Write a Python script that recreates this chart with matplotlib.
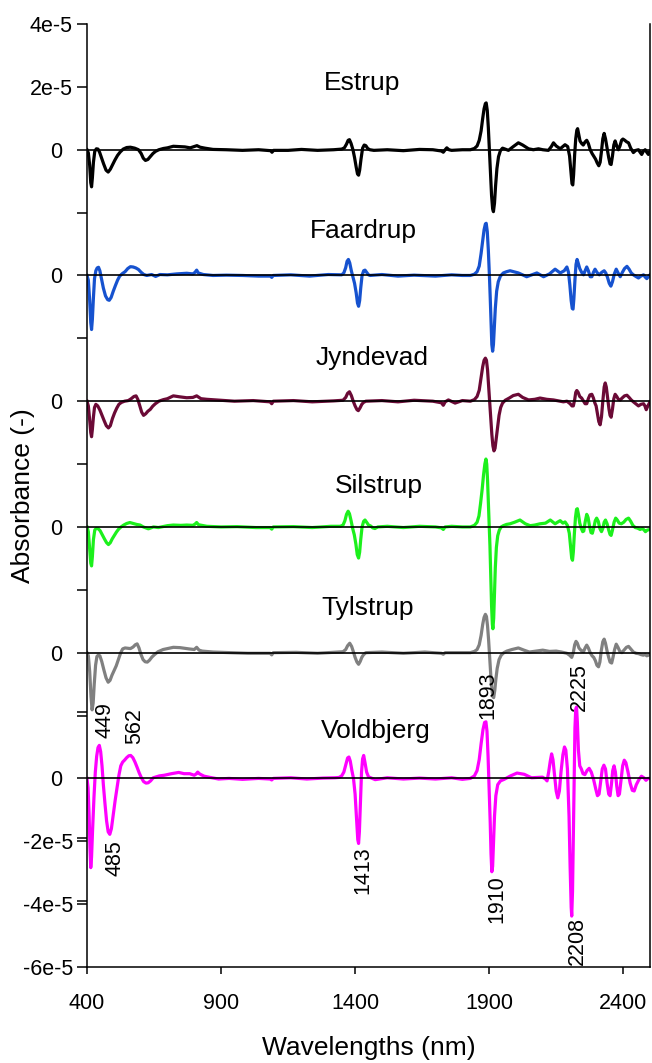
import matplotlib.pyplot as plt
import matplotlib.transforms as mtrans

plt.rcParams['font.family'] = ['Liberation Sans', 'DejaVu Sans']

# (wavelength nm, absorbance in units of 1e-5)
estrup = [(400, 0), (405, -0.1), (410, -0.5), (414, -1.05), (417, -1.18), (420, -0.9), (424, -0.4),
          (429, -0.05), (435, 0.03), (441, 0.02), (447, -0.08), (454, -0.25), (462, -0.45), (471, -0.65),
          (479, -0.71), (487, -0.62), (495, -0.48), (504, -0.33), (514, -0.18), (524, -0.07), (535, 0.02),
          (548, 0.07), (562, 0.08), (578, 0.05), (592, 0.0), (602, -0.12), (610, -0.27), (618, -0.34),
          (627, -0.31), (636, -0.22), (646, -0.12), (656, -0.05), (668, 0.0), (685, 0.04), (700, 0.06),
          (722, 0.11), (745, 0.1), (765, 0.09), (785, 0.06), (800, 0.1), (810, 0.13), (822, 0.08),
          (840, 0.05), (870, 0.01), (920, 0.0), (980, -0.02), (1040, 0.0), (1085, -0.03), (1090, -0.08),
          (1096, -0.02), (1150, -0.02), (1200, 0.01), (1260, -0.02), (1320, 0.0), (1350, 0.02),
          (1360, 0.06), (1368, 0.18), (1374, 0.3), (1379, 0.32), (1385, 0.2), (1392, 0.0), (1398, -0.25),
          (1404, -0.55), (1409, -0.77), (1413, -0.81), (1417, -0.65), (1422, -0.3), (1428, 0.05),
          (1434, 0.15), (1440, 0.13), (1447, 0.04), (1455, 0.0), (1470, -0.02), (1520, 0.0),
          (1580, -0.03), (1640, 0.01), (1690, 0.0), (1722, -0.04), (1729, -0.08), (1736, 0.0),
          (1742, 0.06), (1750, 0.0), (1760, -0.02), (1800, 0.0), (1830, 0.0), (1845, 0.04), (1855, 0.12),
          (1863, 0.3), (1870, 0.6), (1876, 1.0), (1881, 1.3), (1886, 1.47), (1889, 1.49), (1893, 1.25),
          (1897, 0.7), (1901, 0.0), (1905, -0.75), (1909, -1.45), (1913, -1.88), (1916, -1.97),
          (1920, -1.7), (1924, -1.15), (1929, -0.6), (1935, -0.22), (1942, -0.03), (1950, 0.05),
          (1960, 0.02), (1972, -0.02), (1990, 0.1), (2009, 0.22), (2025, 0.15), (2047, 0.03), (2065, 0.0),
          (2084, 0.03), (2100, 0.0), (2121, -0.02), (2132, 0.1), (2140, 0.22), (2150, 0.12), (2165, 0.03),
          (2175, 0.1), (2183, 0.16), (2193, 0.1), (2200, -0.2), (2205, -0.7), (2209, -1.08),
          (2212, -1.12), (2215, -0.8), (2219, -0.15), (2223, 0.35), (2227, 0.62), (2230, 0.67),
          (2234, 0.5), (2239, 0.28), (2245, 0.2), (2251, 0.15), (2258, 0.25), (2264, 0.3), (2270, 0.2),
          (2277, 0.0), (2284, -0.12), (2291, -0.22), (2297, -0.3), (2303, -0.42), (2309, -0.51),
          (2314, -0.4), (2319, -0.05), (2324, 0.35), (2329, 0.52), (2334, 0.35), (2340, 0.05),
          (2346, -0.25), (2351, -0.45), (2355, -0.47), (2360, -0.2), (2365, 0.15), (2370, 0.28),
          (2376, 0.12), (2382, 0.0), (2388, 0.12), (2394, 0.3), (2399, 0.34), (2406, 0.3), (2413, 0.25),
          (2420, 0.22), (2428, 0.05), (2438, -0.09), (2447, -0.02), (2457, 0.0), (2463, -0.08),
          (2469, -0.15), (2475, -0.05), (2482, 0.0), (2488, -0.08), (2494, -0.15), (2500, -0.05)]

faardrup = [(400, 0), (405, -0.15), (410, -0.8), (414, -1.5), (417, -1.72), (420, -1.4), (424, -0.7),
            (428, -0.1), (433, 0.15), (438, 0.24), (443, 0.26), (448, 0.15), (454, -0.1), (461, -0.4),
            (469, -0.65), (477, -0.77), (483, -0.79), (490, -0.7), (498, -0.5), (506, -0.32), (514, -0.15),
            (522, -0.02), (532, 0.06), (542, 0.12), (552, 0.22), (562, 0.28), (572, 0.27), (582, 0.24),
            (592, 0.19), (602, 0.1), (612, 0.03), (623, 0.0), (641, 0.03), (656, -0.03), (672, 0.03),
            (700, 0.02), (735, 0.05), (772, 0.07), (795, 0.05), (803, 0.1), (809, 0.17), (815, 0.08),
            (834, 0.03), (870, 0.0), (920, 0.01), (980, 0.0), (1040, -0.02), (1084, -0.02), (1089, -0.06),
            (1095, 0.0), (1160, 0.02), (1230, -0.02), (1300, 0.03), (1350, 0.02), (1358, 0.08),
            (1365, 0.25), (1370, 0.45), (1375, 0.51), (1380, 0.4), (1386, 0.15), (1392, -0.05),
            (1398, -0.25), (1404, -0.55), (1409, -0.88), (1413, -0.98), (1417, -0.8), (1421, -0.4),
            (1426, 0.0), (1432, 0.15), (1437, 0.17), (1443, 0.1), (1450, 0.02), (1456, 0.0), (1500, 0.03),
            (1560, -0.02), (1620, 0.01), (1700, -0.02), (1760, 0.02), (1800, 0.0), (1830, 0.0),
            (1845, 0.04), (1855, 0.12), (1863, 0.3), (1870, 0.7), (1876, 1.12), (1881, 1.45),
            (1886, 1.64), (1889, 1.66), (1893, 1.4), (1897, 0.8), (1901, 0.0), (1904, -0.7), (1907, -1.5),
            (1910, -2.2), (1913, -2.41), (1916, -2.2), (1919, -1.7), (1923, -1.05), (1928, -0.5),
            (1934, -0.2), (1942, -0.02), (1953, 0.08), (1965, 0.12), (1978, 0.15), (1992, 0.12),
            (2009, 0.08), (2040, -0.04), (2078, 0.08), (2103, -0.04), (2125, 0.05), (2146, 0.2),
            (2165, 0.08), (2180, 0.15), (2190, 0.27), (2196, 0.1), (2201, -0.3), (2206, -0.8),
            (2210, -1.05), (2213, -1.07), (2216, -0.75), (2220, -0.15), (2224, 0.35), (2228, 0.51),
            (2232, 0.4), (2238, 0.22), (2245, 0.1), (2252, 0.02), (2258, 0.15), (2264, 0.27), (2270, 0.15),
            (2277, -0.04), (2283, -0.04), (2289, 0.1), (2295, 0.2), (2302, 0.1), (2311, 0.02), (2320, 0.1),
            (2329, 0.15), (2335, 0.08), (2341, -0.05), (2348, -0.25), (2354, -0.34), (2360, -0.2),
            (2367, 0.05), (2374, 0.2), (2381, 0.08), (2389, -0.04), (2397, 0.1), (2405, 0.22),
            (2414, 0.29), (2422, 0.2), (2430, 0.08), (2438, 0.02), (2447, -0.03), (2457, -0.08),
            (2466, -0.02), (2476, 0.02), (2482, -0.05), (2488, -0.1), (2494, -0.04), (2500, 0.02)]

jyndevad = [(400, 0), (405, -0.15), (410, -0.6), (414, -1.0), (417, -1.13), (420, -0.9), (424, -0.5),
            (428, -0.2), (433, -0.1), (440, -0.15), (448, -0.28), (456, -0.45), (464, -0.62), (472, -0.78),
            (480, -0.85), (487, -0.78), (495, -0.55), (503, -0.37), (511, -0.22), (519, -0.1), (528, -0.04),
            (540, 0.0), (554, 0.02), (565, 0.08), (575, 0.15), (583, 0.17), (590, 0.05), (597, -0.15),
            (604, -0.35), (611, -0.45), (619, -0.4), (627, -0.32), (636, -0.26), (645, -0.16), (655, -0.08),
            (668, 0.0), (685, 0.05), (700, 0.08), (722, 0.17), (745, 0.14), (772, 0.11), (795, 0.12),
            (809, 0.17), (825, 0.08), (847, 0.06), (896, 0.03), (950, 0.0), (1020, 0.02), (1083, -0.02),
            (1089, -0.08), (1095, 0.0), (1170, 0.02), (1240, -0.02), (1320, 0.01), (1355, 0.03),
            (1365, 0.12), (1372, 0.25), (1379, 0.3), (1386, 0.18), (1393, 0.0), (1400, -0.15),
            (1407, -0.27), (1412, -0.3), (1418, -0.22), (1425, -0.1), (1431, -0.04), (1440, 0.0),
            (1500, 0.02), (1560, -0.02), (1620, 0.03), (1690, 0.0), (1722, -0.05), (1729, -0.13),
            (1736, -0.02), (1748, 0.04), (1773, -0.06), (1800, 0.02), (1830, 0.0), (1845, 0.05),
            (1855, 0.15), (1863, 0.35), (1870, 0.75), (1876, 1.1), (1881, 1.3), (1886, 1.37), (1890, 1.3),
            (1894, 1.0), (1898, 0.5), (1902, -0.05), (1906, -0.55), (1910, -1.05), (1914, -1.42),
            (1918, -1.58), (1922, -1.5), (1926, -1.22), (1931, -0.85), (1937, -0.45), (1943, -0.2),
            (1950, -0.06), (1960, 0.03), (1975, 0.1), (1990, 0.18), (2009, 0.22), (2025, 0.12),
            (2047, 0.04), (2070, 0.06), (2090, 0.1), (2115, 0.06), (2140, 0.04), (2177, -0.02),
            (2190, 0.0), (2202, -0.08), (2209, -0.15), (2214, -0.15), (2219, 0.05), (2223, 0.28),
            (2227, 0.34), (2232, 0.28), (2238, 0.15), (2245, 0.1), (2252, 0.0), (2258, -0.08),
            (2264, -0.08), (2270, 0.08), (2276, 0.2), (2283, 0.22), (2289, 0.1), (2294, -0.05),
            (2299, -0.15), (2304, -0.4), (2309, -0.65), (2314, -0.75), (2319, -0.5), (2324, 0.0),
            (2329, 0.45), (2333, 0.58), (2337, 0.45), (2342, 0.1), (2347, -0.25), (2351, -0.45),
            (2355, -0.51), (2360, -0.25), (2365, 0.08), (2370, 0.22), (2376, 0.15), (2382, 0.06),
            (2389, 0.04), (2396, 0.1), (2405, 0.17), (2414, 0.19), (2422, 0.12), (2430, 0.04),
            (2438, -0.02), (2447, -0.08), (2457, -0.15), (2466, -0.1), (2476, -0.08), (2481, -0.15),
            (2486, -0.27), (2492, -0.15), (2500, -0.02)]

silstrup = [(400, 0), (405, -0.15), (410, -0.7), (414, -1.15), (417, -1.24), (420, -0.95), (424, -0.4),
            (429, -0.1), (434, -0.05), (441, -0.05), (449, -0.12), (457, -0.25), (465, -0.38), (473, -0.5),
            (480, -0.56), (487, -0.5), (494, -0.38), (502, -0.27), (510, -0.16), (518, -0.07), (527, 0.0),
            (537, 0.06), (548, 0.11), (560, 0.14), (572, 0.11), (585, 0.08), (598, 0.06), (610, 0.0),
            (620, -0.03), (629, -0.06), (638, -0.03), (648, 0.0), (666, -0.02), (700, 0.04), (722, 0.06),
            (750, 0.05), (772, 0.06), (795, 0.05), (803, 0.09), (809, 0.14), (816, 0.07), (847, 0.02),
            (900, 0.0), (960, 0.01), (1030, -0.02), (1083, -0.02), (1089, -0.07), (1095, 0.0),
            (1170, 0.01), (1240, -0.02), (1310, 0.02), (1345, 0.02), (1355, 0.06), (1362, 0.2),
            (1368, 0.4), (1374, 0.5), (1379, 0.42), (1385, 0.2), (1391, -0.05), (1397, -0.25),
            (1403, -0.55), (1408, -0.88), (1413, -0.99), (1417, -0.8), (1421, -0.4), (1426, 0.0),
            (1432, 0.18), (1437, 0.22), (1443, 0.15), (1450, 0.06), (1458, 0.03), (1466, -0.03),
            (1474, -0.05), (1485, 0.0), (1520, 0.02), (1580, -0.02), (1640, 0.02), (1700, 0.0),
            (1722, -0.03), (1729, -0.08), (1736, 0.0), (1760, 0.02), (1800, 0.0), (1830, 0.0),
            (1845, 0.05), (1855, 0.15), (1862, 0.35), (1868, 0.75), (1874, 1.2), (1879, 1.65), (1884, 2.0),
            (1888, 2.16), (1891, 2.0), (1894, 1.5), (1897, 0.8), (1900, 0.1), (1903, -0.6), (1906, -1.5),
            (1909, -2.5), (1912, -3.1), (1914, -3.24), (1917, -2.9), (1920, -2.1), (1923, -1.3),
            (1927, -0.65), (1932, -0.28), (1938, -0.1), (1945, 0.0), (1953, 0.04), (1965, 0.08),
            (1978, 0.1), (1995, 0.15), (2015, 0.22), (2035, 0.1), (2053, 0.04), (2070, 0.06), (2090, 0.1),
            (2110, 0.12), (2128, 0.22), (2146, 0.1), (2155, 0.15), (2165, 0.2), (2175, 0.12), (2183, 0.16),
            (2192, 0.05), (2199, -0.2), (2204, -0.65), (2208, -1.0), (2211, -1.06), (2214, -0.8),
            (2218, -0.2), (2222, 0.3), (2226, 0.56), (2229, 0.58), (2233, 0.4), (2238, 0.12), (2244, -0.05),
            (2249, -0.15), (2253, -0.13), (2258, 0.15), (2264, 0.4), (2269, 0.3), (2275, 0.0),
            (2280, -0.18), (2285, -0.2), (2291, 0.0), (2296, 0.2), (2301, 0.28), (2307, 0.18),
            (2313, -0.05), (2319, -0.15), (2324, -0.05), (2329, 0.15), (2334, 0.22), (2340, 0.1),
            (2346, -0.1), (2351, -0.24), (2355, -0.27), (2360, -0.1), (2366, 0.15), (2372, 0.28),
            (2378, 0.22), (2385, 0.12), (2393, 0.1), (2402, 0.15), (2411, 0.24), (2420, 0.28),
            (2428, 0.18), (2436, 0.05), (2445, -0.02), (2454, -0.04), (2463, -0.08), (2472, -0.05),
            (2478, -0.1), (2483, -0.15), (2490, -0.1), (2500, -0.08)]

tylstrup = [(400, 0), (405, -0.1), (410, -0.6), (415, -1.4), (419, -1.82), (423, -1.6), (427, -1.0),
            (432, -0.4), (437, -0.12), (442, -0.08), (448, -0.1), (455, -0.28), (463, -0.55), (471, -0.8),
            (479, -0.94), (486, -0.88), (493, -0.72), (501, -0.57), (509, -0.42), (517, -0.22),
            (525, -0.02), (533, 0.12), (542, 0.15), (552, 0.14), (562, 0.13), (572, 0.18), (580, 0.25),
            (587, 0.28), (594, 0.15), (601, -0.05), (609, -0.22), (617, -0.29), (625, -0.3), (633, -0.24),
            (642, -0.14), (652, -0.06), (665, 0.03), (684, 0.1), (722, 0.17), (747, 0.16), (780, 0.12),
            (800, 0.1), (809, 0.17), (818, 0.08), (830, 0.05), (870, 0.02), (930, 0.0), (1000, -0.02),
            (1083, -0.02), (1089, -0.07), (1095, 0.0), (1180, 0.01), (1260, -0.02), (1340, 0.02),
            (1355, 0.03), (1365, 0.1), (1372, 0.22), (1380, 0.3), (1387, 0.2), (1394, 0.02), (1400, -0.15),
            (1407, -0.3), (1413, -0.37), (1419, -0.28), (1425, -0.15), (1431, -0.07), (1440, 0.0),
            (1500, 0.02), (1580, -0.02), (1660, 0.02), (1722, -0.02), (1729, -0.05), (1736, 0.0),
            (1780, 0.0), (1830, 0.0), (1845, 0.04), (1855, 0.1), (1863, 0.25), (1870, 0.55), (1876, 0.9),
            (1881, 1.12), (1886, 1.22), (1890, 1.15), (1894, 0.85), (1898, 0.4), (1902, -0.15),
            (1906, -0.7), (1910, -1.15), (1914, -1.4), (1917, -1.43), (1921, -1.2), (1925, -0.85),
            (1930, -0.5), (1937, -0.22), (1945, -0.08), (1955, 0.0), (1966, 0.05), (1985, 0.1),
            (2009, 0.15), (2030, 0.08), (2050, 0.02), (2075, 0.05), (2100, 0.08), (2125, 0.04),
            (2150, 0.05), (2170, 0.02), (2190, -0.02), (2200, -0.08), (2208, -0.15), (2214, 0.0),
            (2219, 0.25), (2224, 0.36), (2229, 0.3), (2235, 0.15), (2240, 0.1), (2246, 0.05), (2252, 0.03),
            (2258, 0.15), (2264, 0.24), (2270, 0.15), (2277, 0.0), (2284, -0.1), (2290, -0.15),
            (2296, -0.25), (2302, -0.4), (2308, -0.45), (2313, -0.3), (2318, 0.05), (2324, 0.35),
            (2329, 0.43), (2334, 0.3), (2340, 0.05), (2346, -0.15), (2351, -0.3), (2357, -0.33),
            (2362, -0.15), (2368, 0.1), (2374, 0.27), (2380, 0.18), (2387, 0.05), (2395, 0.0),
            (2403, 0.08), (2412, 0.17), (2420, 0.2), (2428, 0.12), (2438, 0.02), (2448, -0.02),
            (2457, -0.03), (2466, -0.06), (2475, -0.08), (2482, -0.06), (2488, -0.1), (2494, -0.08),
            (2500, -0.05)]

voldbjerg = [(400, 0), (404, -0.3), (408, -1.2), (411, -2.2), (414, -2.84), (417, -2.5), (421, -1.6),
             (426, -0.6), (431, 0.2), (436, 0.7), (441, 0.98), (446, 1.05), (451, 0.85), (456, 0.4),
             (461, -0.2), (467, -0.8), (473, -1.35), (479, -1.7), (485, -1.78), (491, -1.6), (498, -1.15),
             (505, -0.7), (512, -0.3), (519, 0.1), (526, 0.4), (533, 0.52), (540, 0.58), (548, 0.66),
             (556, 0.72), (563, 0.73), (571, 0.66), (579, 0.52), (587, 0.35), (595, 0.17), (603, 0.02),
             (611, -0.1), (620, -0.15), (628, -0.14), (637, -0.08), (647, 0.02), (670, 0.08), (688, 0.1),
             (715, 0.15), (742, 0.19), (762, 0.15), (783, 0.15), (800, 0.1), (807, 0.14), (813, 0.2),
             (819, 0.15), (825, 0.12), (837, 0.07), (860, 0.03), (891, -0.02), (930, 0.0), (980, -0.03),
             (1040, 0.0), (1083, -0.02), (1089, -0.05), (1095, 0.0), (1160, 0.02), (1220, -0.02),
             (1280, 0.01), (1325, 0.02), (1340, 0.03), (1350, 0.08), (1358, 0.2), (1366, 0.45),
             (1372, 0.65), (1377, 0.68), (1382, 0.55), (1388, 0.25), (1394, 0.0), (1400, -0.5),
             (1406, -1.4), (1410, -1.95), (1413, -2.07), (1416, -1.7), (1420, -0.7), (1424, 0.2),
             (1428, 0.62), (1432, 0.73), (1437, 0.5), (1443, 0.2), (1450, 0.05), (1475, -0.04),
             (1520, 0.02), (1580, -0.02), (1640, 0.01), (1700, -0.02), (1760, 0.02), (1800, -0.03),
             (1830, 0.0), (1845, 0.08), (1855, 0.25), (1863, 0.6), (1870, 1.1), (1877, 1.55), (1883, 1.78),
             (1888, 1.8), (1892, 1.5), (1896, 0.7), (1900, -0.3), (1904, -1.4), (1907, -2.4), (1910, -2.97),
             (1913, -2.8), (1916, -2.1), (1920, -1.2), (1925, -0.55), (1932, -0.2), (1942, -0.08),
             (1956, -0.03), (1980, 0.08), (2004, 0.17), (2031, 0.13), (2058, 0.02), (2099, 0.04),
             (2110, -0.02), (2116, -0.08), (2122, 0.2), (2128, 0.55), (2133, 0.78), (2138, 0.6),
             (2144, 0.1), (2150, -0.4), (2156, -0.62), (2162, -0.4), (2168, 0.2), (2175, 0.75), (2181, 1.0),
             (2186, 0.9), (2192, 0.3), (2198, -1.2), (2202, -2.8), (2206, -4.1), (2208, -4.38),
             (2211, -3.6), (2214, -1.8), (2217, 0.2), (2220, 1.6), (2223, 2.2), (2226, 2.27), (2229, 1.8),
             (2233, 0.9), (2238, 0.4), (2244, 0.3), (2250, 0.15), (2257, 0.12), (2265, 0.25), (2273, 0.32),
             (2281, 0.2), (2290, -0.05), (2298, -0.35), (2304, -0.55), (2310, -0.5), (2316, -0.1),
             (2322, 0.3), (2328, 0.42), (2334, 0.3), (2340, -0.15), (2346, -0.5), (2351, -0.55),
             (2356, -0.2), (2361, 0.25), (2366, 0.4), (2371, 0.2), (2376, -0.25), (2381, -0.55),
             (2386, -0.5), (2392, -0.05), (2398, 0.4), (2404, 0.58), (2410, 0.5), (2418, 0.2),
             (2426, -0.15), (2434, -0.38), (2441, -0.4), (2449, -0.2), (2458, -0.05), (2468, 0.07),
             (2477, 0.02), (2485, -0.06), (2493, 0.0), (2500, 0.0)]

sites = ['Estrup', 'Faardrup', 'Jyndevad', 'Silstrup', 'Tylstrup', 'Voldbjerg']
spectra = [estrup, faardrup, jyndevad, silstrup, tylstrup, voldbjerg]
colors = ['#000000', '#1652cf', '#6b0a36', '#1cf01c', '#808080', '#ff00ff']

# vertical stacking (units of 1e-5)
offsets = [20, 16, 12, 8, 4, 0]
name_pos = [(1425, 1.9), (1430, 1.2), (1462, 1.15), (1490, 1.07), (1446, 1.2), (1478, 1.29)]

ytick_vals = [-6, -4, -2, 0, 2, 4, 6, 8, 10, 12, 14, 16, 18, 20, 22, 24]
ytick_labels = ['-6e-5', '-4e-5', '-2e-5', '0', '', '0', '', '0', '', '0', '', '0', '', '0', '2e-5', '4e-5']

peak_labels = [('449', 467, 1.3, 'bottom'), ('562', 579, 1.1, 'bottom'), ('485', 504, -1.97, 'top'),
               ('1413', 1430, -2.15, 'top'), ('1893', 1894, 1.9, 'bottom'), ('1910', 1930, -3.08, 'top'),
               ('2225', 2236, 2.13, 'bottom'), ('2208', 2228, -4.42, 'top')]

fig = plt.figure(figsize=(6.52, 10.63), dpi=100)
ax = fig.add_axes([87 / 652, 1 - 967 / 1063, 563 / 652, 943 / 1063])

for name, data, c, off, (nx, ny) in zip(sites, spectra, colors, offsets, name_pos):
    wl = [p[0] for p in data]
    ab = [(off + p[1]) * 1e-5 for p in data]
    ax.plot(wl, ab, color=c, lw=2.3, zorder=2, solid_joinstyle='round')
    ax.axhline(off * 1e-5, color='black', lw=1.2, zorder=3)
    ax.text(nx, (off + ny) * 1e-5, name, ha='center', va='baseline', fontsize=19)

for txt, x, y, va in peak_labels:
    ax.text(x, y * 1e-5, txt, rotation=90, ha='center', va=va, fontsize=15.5)

ax.set_xlim(400, 2500)
ax.set_ylim(-6e-5, 24e-5)
ax.set_xticks([400, 900, 1400, 1900, 2400])
ax.set_yticks([v * 1e-5 for v in ytick_vals])
ax.set_yticklabels(ytick_labels)
ax.set_yticks([2.1e-5, -1.9e-5, -3.9e-5], minor=True)
ax.tick_params(axis='x', direction='out', length=5, width=1.1, pad=13.5, labelsize=15.5)
ax.tick_params(axis='y', which='both', direction='out', length=7.2, width=1.1, pad=3, labelsize=15.5)

for s in ['left', 'bottom', 'right']:
    ax.spines[s].set_linewidth(1.1)
ax.spines['top'].set_visible(False)

# the "0" labels sit a bit further from the axis in the original
shift = mtrans.ScaledTranslation(-0.11, 0, fig.dpi_scale_trans)
for t, lab in zip(ax.yaxis.get_major_ticks(), ytick_labels):
    if lab == '0':
        t.label1.set_transform(t.label1.get_transform() + shift)

ax.set_ylabel('Absorbance (-)', fontsize=19)
ax.yaxis.set_label_coords(-0.093, 0.5)
ax.set_xlabel('Wavelengths (nm)', fontsize=19, va='top')
ax.xaxis.set_label_coords(0.5, -0.073)

fig.savefig('out.png', dpi=100)
